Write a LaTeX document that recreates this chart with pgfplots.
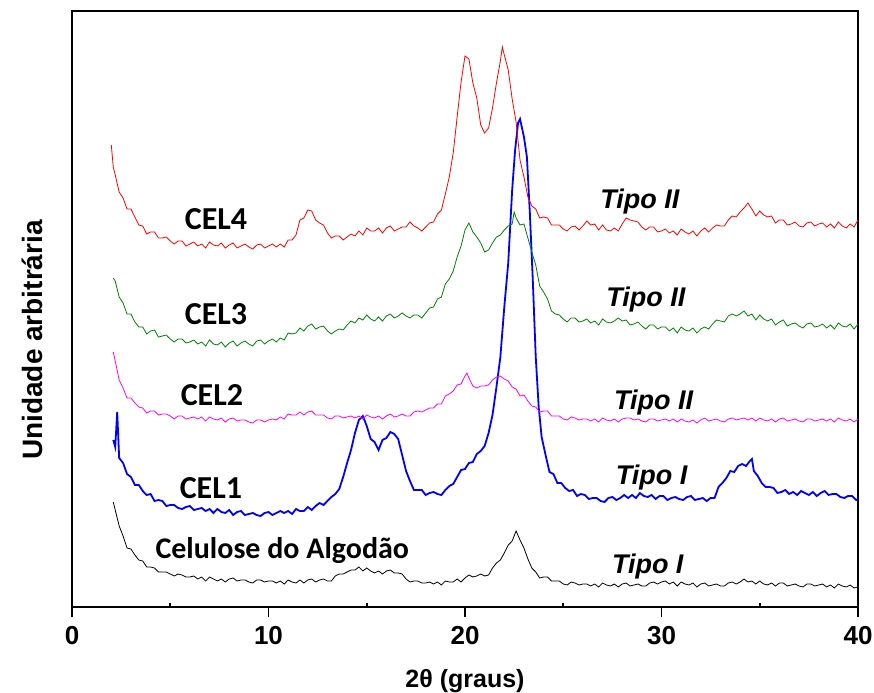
\documentclass[border=0pt]{standalone}
\usepackage{pgfplots}
\pgfplotsset{compat=1.18}
\usepackage{fontspec}
\setmainfont{Liberation Sans}
\newfontfamily\calibri{Carlito}

\definecolor{cred}{RGB}{255,0,0}
\definecolor{cgreen}{RGB}{0,128,0}
\definecolor{cmag}{RGB}{255,0,255}
\definecolor{cblue}{RGB}{0,0,255}

\begin{document}
\begin{tikzpicture}
\useasboundingbox (-72bp,-86bp) rectangle (802bp,607bp);
\begin{axis}[
  at={(0,0)}, anchor=south west,
  scale only axis, width=786bp, height=596bp,
  xmin=0, xmax=40, ymin=0, ymax=596,
  xtick={0,10,20,30,40}, ytick=\empty,
  xtick pos=bottom,
  tick align=outside, major tick length=10bp,
  extra x ticks={5,15,25,35}, extra x tick labels={},
  extra x tick style={tick align=inside, major tick length=4bp},
  axis line style={line width=1.6bp},
  tick style={line width=1.6bp, black},
  /pgf/number format/assume math mode=true,
  xticklabel style={font=\bfseries\fontsize{26bp}{28bp}\selectfont, yshift=-6bp},
  xlabel={\fontsize{25bp}{28bp}\selectfont\bfseries 2θ (graus)},
  xlabel style={yshift=-8bp},
  clip=false,
]
% Celulose do Algodao
\addplot[black, line width=0.8bp] coordinates {
(2.1,105) (2.2,97) (2.4,81) (2.6,71) (2.8,59) (3.0,58) (3.2,52) (3.4,47) (3.6,46) (3.8,40)
(4.0,40) (4.2,39) (4.4,35) (4.6,35) (4.8,35) (5.0,33) (5.2,31) (5.4,33) (5.6,32) (5.8,30)
(6.0,30) (6.2,31) (6.4,28) (6.6,30) (6.8,26) (7.0,30) (7.2,28) (7.4,26) (7.6,28) (7.8,25)
(8.0,28) (8.2,29) (8.4,26) (8.6,27) (8.8,27) (9.0,25) (9.2,24) (9.4,27) (9.6,27) (9.8,25)
(10.0,26) (10.2,26) (10.4,24) (10.6,26) (10.8,23) (11.0,27) (11.2,25) (11.4,24) (11.6,27) (11.8,24)
(12.0,27) (12.2,28) (12.4,25) (12.6,27) (12.8,28) (13.0,26) (13.2,26) (13.4,31) (13.6,33) (13.8,33)
(14.0,35) (14.2,37) (14.4,37) (14.6,40) (14.8,36) (15.0,39) (15.2,36) (15.4,34) (15.6,36) (15.8,33)
(16.0,36) (16.2,37) (16.4,34) (16.6,34) (16.8,33) (17.0,28) (17.2,25) (17.4,26) (17.6,26) (17.8,24)
(18.0,24) (18.2,25) (18.4,23) (18.6,25) (18.8,22) (19.0,26) (19.2,25) (19.4,25) (19.6,28) (19.8,25)
(20.0,29) (20.2,32) (20.4,30) (20.6,31) (20.8,33) (21.0,31) (21.2,32) (21.4,39) (21.6,44) (21.8,47)
(22.0,54) (22.2,62) (22.4,66) (22.6,76) (22.8,67) (23.0,59) (23.2,48) (23.4,39) (23.6,35) (23.8,29)
(24.0,30) (24.2,30) (24.4,26) (24.6,26) (24.8,26) (25.0,23) (25.2,22) (25.4,25) (25.6,24) (25.8,22)
(26.0,23) (26.2,23) (26.4,21) (26.6,23) (26.8,20) (27.0,24) (27.2,22) (27.4,21) (27.6,23) (27.8,20)
(28.0,23) (28.2,24) (28.4,21) (28.6,22) (28.8,23) (29.0,21) (29.2,21) (29.4,24) (29.6,25) (29.8,23)
(30.0,25) (30.2,26) (30.4,23) (30.6,25) (30.8,21) (31.0,25) (31.2,23) (31.4,22) (31.6,24) (31.8,20)
(32.0,23) (32.2,24) (32.4,21) (32.6,22) (32.8,23) (33.0,21) (33.2,21) (33.4,24) (33.6,25) (33.8,23)
(34.0,25) (34.2,28) (34.4,25) (34.6,26) (34.8,23) (35.0,26) (35.2,23) (35.4,22) (35.6,24) (35.8,21)
(36.0,24) (36.2,24) (36.4,21) (36.6,22) (36.8,23) (37.0,21) (37.2,20) (37.4,23) (37.6,23) (37.8,21)
(38.0,22) (38.2,23) (38.4,20) (38.6,22) (38.8,19) (39.0,23) (39.2,21) (39.4,20) (39.6,22) (39.8,19)
(40.0,20)};
% CEL1
\addplot[cblue, line width=1.8bp] coordinates {
(2.1,167) (2.2,160) (2.3,195) (2.4,149) (2.6,144) (2.8,133) (3.0,130) (3.2,122) (3.4,122) (3.6,116)
(3.8,112) (4.0,113) (4.2,106) (4.4,107) (4.6,106) (4.8,101) (5.0,102) (5.2,102) (5.4,99) (5.6,98)
(5.8,100) (6.0,101) (6.2,97) (6.4,98) (6.6,99) (6.8,96) (7.0,98) (7.2,94) (7.4,98) (7.6,95)
(7.8,94) (8.0,97) (8.2,92) (8.4,95) (8.6,96) (8.8,92) (9.0,93) (9.2,94) (9.4,92) (9.6,91)
(9.8,94) (10.0,95) (10.2,92) (10.4,94) (10.6,96) (10.8,94) (11.0,96) (11.2,93) (11.4,98) (11.6,96)
(11.8,96) (12.0,100) (12.2,97) (12.4,101) (12.6,104) (12.8,102) (13.0,106) (13.2,110) (13.4,113) (13.6,118)
(13.8,130) (14.0,144) (14.2,157) (14.4,174) (14.6,187) (14.8,191) (15.0,181) (15.2,168) (15.4,165) (15.6,157)
(15.8,167) (16.0,169) (16.2,175) (16.4,173) (16.6,168) (16.8,152) (17.0,136) (17.2,126) (17.4,117) (17.6,117)
(17.8,117) (18.0,112) (18.2,114) (18.4,115) (18.6,113) (18.8,112) (19.0,117) (19.2,121) (19.4,123) (19.6,130)
(19.8,137) (20.0,138) (20.2,144) (20.4,145) (20.6,153) (20.8,156) (21.0,161) (21.2,174) (21.4,192) (21.6,220)
(21.8,250) (22.0,300) (22.2,344) (22.4,417) (22.55,457) (22.7,484) (22.8,488) (22.9,479) (23.0,470) (23.15,450)
(23.3,394) (23.45,327) (23.6,250) (23.75,200) (23.9,170) (24.1,152) (24.3,135) (24.5,133) (24.7,124) (24.9,124)
(25.1,119) (25.3,116) (25.5,117) (25.7,111) (25.9,113) (26.1,112) (26.3,108) (26.5,109) (26.7,109) (26.9,106)
(27.1,105) (27.3,109) (27.5,110) (27.7,107) (27.9,109) (28.1,112) (28.3,109) (28.5,112) (28.7,109) (28.9,114)
(29.1,111) (29.3,110) (29.5,112) (29.7,108) (29.9,111) (30.1,111) (30.3,107) (30.5,109) (30.7,110) (30.9,108)
(31.1,107) (31.3,110) (31.5,111) (31.7,107) (31.9,108) (32.1,109) (32.3,106) (32.5,109) (32.7,109) (32.9,120)
(33.1,124) (33.3,129) (33.5,136) (33.7,135) (33.9,141) (34.1,143) (34.3,141) (34.5,146) (34.6,148) (34.7,136)
(34.9,131) (35.1,124) (35.3,120) (35.5,120) (35.7,119) (35.9,114) (36.1,115) (36.3,117) (36.5,113) (36.7,115)
(36.9,112) (37.1,116) (37.3,114) (37.5,112) (37.7,115) (37.9,111) (38.1,114) (38.3,116) (38.5,112) (38.7,113)
(38.9,113) (39.1,110) (39.3,109) (39.5,111) (39.7,111) (39.9,107) (40.0,108)};
% CEL2
\addplot[cmag, line width=0.8bp] coordinates {
(2.1,255) (2.2,246) (2.4,227) (2.6,219) (2.8,209) (3.0,209) (3.2,204) (3.4,200) (3.6,199) (3.8,194)
(4.0,196) (4.2,196) (4.4,192) (4.6,193) (4.8,193) (5.0,191) (5.2,188) (5.4,191) (5.6,191) (5.8,188)
(6.0,189) (6.2,190) (6.4,188) (6.6,190) (6.8,186) (7.0,190) (7.2,188) (7.4,187) (7.6,189) (7.8,185)
(8.0,188) (8.2,189) (8.4,186) (8.6,187) (8.8,187) (9.0,185) (9.2,184) (9.4,187) (9.6,187) (9.8,185)
(10.0,187) (10.2,188) (10.4,187) (10.6,190) (10.8,188) (11.0,193) (11.2,192) (11.4,192) (11.6,195) (11.8,192)
(12.0,195) (12.2,196) (12.4,192) (12.6,192) (12.8,192) (13.0,189) (13.2,188) (13.4,191) (13.6,191) (13.8,189)
(14.0,190) (14.2,191) (14.4,189) (14.6,191) (14.8,188) (15.0,192) (15.2,190) (15.4,189) (15.6,191) (15.8,188)
(16.0,191) (16.2,193) (16.4,190) (16.6,191) (16.8,193) (17.0,191) (17.2,191) (17.4,195) (17.6,196) (17.8,195)
(18.0,197) (18.2,199) (18.4,199) (18.6,203) (18.8,203) (19.0,211) (19.2,213) (19.4,216) (19.6,222) (19.8,223)
(20.0,231) (20.1,234) (20.2,229) (20.4,221) (20.6,219) (20.8,221) (21.0,221) (21.2,222) (21.4,227) (21.6,230)
(21.8,231) (22.0,228) (22.2,226) (22.4,220) (22.6,218) (22.8,211) (23.0,212) (23.2,206) (23.4,201) (23.6,200)
(23.8,195) (24.0,196) (24.2,196) (24.4,191) (24.6,191) (24.8,191) (25.0,188) (25.2,187) (25.4,190) (25.6,189)
(25.8,187) (26.0,188) (26.2,188) (26.4,186) (26.6,188) (26.8,185) (27.0,189) (27.2,187) (27.4,186) (27.6,188)
(27.8,185) (28.0,188) (28.2,189) (28.4,189) (28.6,187) (28.8,188) (29.0,186) (29.2,185) (29.4,188) (29.6,188)
(29.8,186) (30.0,187) (30.2,188) (30.4,186) (30.6,188) (30.8,185) (31.0,188) (31.2,186) (31.4,185) (31.6,187)
(31.8,184) (32.0,187) (32.2,189) (32.4,186) (32.6,187) (32.8,188) (33.0,186) (33.2,185) (33.4,188) (33.6,189)
(33.8,187) (34.0,188) (34.2,189) (34.4,187) (34.6,189) (34.8,186) (35.0,189) (35.2,187) (35.4,186) (35.6,188)
(35.8,185) (36.0,188) (36.2,189) (36.4,186) (36.6,187) (36.8,188) (37.0,186) (37.2,185) (37.4,188) (37.6,188)
(37.8,186) (38.0,187) (38.2,188) (38.4,186) (38.6,188) (38.8,185) (39.0,189) (39.2,187) (39.4,186) (39.6,188)
(39.8,185) (40.0,188)};
% CEL3
\addplot[cgreen, line width=0.8bp] coordinates {
(2.1,329) (2.2,326) (2.4,310) (2.6,304) (2.8,293) (3.0,293) (3.2,285) (3.4,280) (3.6,280) (3.8,273)
(4.0,276) (4.2,277) (4.4,270) (4.6,271) (4.8,272) (5.0,268) (5.2,265) (5.4,268) (5.6,268) (5.8,264)
(6.0,265) (6.2,267) (6.4,263) (6.6,265) (6.8,261) (7.0,267) (7.2,263) (7.4,262) (7.6,265) (7.8,260)
(8.0,264) (8.2,266) (8.4,261) (8.6,264) (8.8,266) (9.0,263) (9.2,261) (9.4,266) (9.6,267) (9.8,263)
(10.0,266) (10.2,268) (10.4,265) (10.6,269) (10.8,267) (11.0,274) (11.2,273) (11.4,274) (11.6,279) (11.8,276)
(12.0,281) (12.2,283) (12.4,278) (12.6,280) (12.8,281) (13.0,276) (13.2,273) (13.4,276) (13.6,278) (13.8,277)
(14.0,282) (14.2,286) (14.4,284) (14.6,289) (14.8,287) (15.0,292) (15.2,288) (15.4,286) (15.6,290) (15.8,286)
(16.0,291) (16.2,293) (16.4,289) (16.6,291) (16.8,294) (17.0,291) (17.2,289) (17.4,292) (17.6,292) (17.8,289)
(18.0,294) (18.2,299) (18.4,300) (18.6,308) (18.8,310) (19.0,323) (19.2,328) (19.4,336) (19.6,350) (19.8,361)
(20.0,377) (20.2,384) (20.4,375) (20.6,370) (20.8,364) (21.0,355) (21.2,357) (21.4,364) (21.6,370) (21.8,372)
(22.0,377) (22.2,381) (22.4,383) (22.5,395) (22.6,389) (22.8,382) (23.0,383) (23.2,369) (23.4,355) (23.6,342)
(23.8,321) (24.0,315) (24.2,308) (24.4,296) (24.6,293) (24.8,292) (25.0,288) (25.2,285) (25.4,289) (25.6,289)
(25.8,285) (26.0,286) (26.2,288) (26.4,284) (26.6,286) (26.8,282) (27.0,288) (27.2,285) (27.4,284) (27.6,286)
(27.8,289) (28.0,286) (28.2,287) (28.4,282) (28.6,283) (28.8,285) (29.0,281) (29.2,278) (29.4,282) (29.6,282)
(29.8,278) (30.0,280) (30.2,280) (30.4,276) (30.6,279) (30.8,274) (31.0,280) (31.2,277) (31.4,276) (31.6,279)
(31.8,274) (32.0,278) (32.2,280) (32.4,278) (32.6,283) (32.8,287) (33.0,286) (33.2,285) (33.4,291) (33.6,293)
(33.8,291) (34.0,293) (34.2,296) (34.4,291) (34.6,293) (34.8,287) (35.0,292) (35.2,288) (35.4,286) (35.6,288)
(35.8,282) (36.0,285) (36.2,287) (36.4,281) (36.6,283) (36.8,284) (37.0,281) (37.2,279) (37.4,283) (37.6,284)
(37.8,280) (38.0,281) (38.2,283) (38.4,279) (38.6,282) (38.8,278) (39.0,284) (39.2,281) (39.4,280) (39.6,283)
(39.8,278) (40.0,283)};
% CEL4
\addplot[cred, line width=0.8bp] coordinates {
(2.0,462) (2.1,440) (2.2,432) (2.4,415) (2.6,409) (2.8,398) (3.0,398) (3.2,390) (3.4,382) (3.6,381)
(3.8,373) (4.0,375) (4.2,375) (4.4,369) (4.6,369) (4.8,370) (5.0,366) (5.2,363) (5.4,366) (5.6,366)
(5.8,361) (6.0,363) (6.2,365) (6.4,361) (6.6,363) (6.8,359) (7.0,365) (7.2,362) (7.4,361) (7.6,364)
(7.8,359) (8.0,362) (8.2,364) (8.4,359) (8.6,361) (8.8,363) (9.0,360) (9.2,358) (9.4,362) (9.6,363)
(9.8,359) (10.0,361) (10.2,363) (10.4,360) (10.6,363) (10.8,360) (11.0,367) (11.2,367) (11.4,372) (11.6,387)
(11.8,389) (12.0,397) (12.2,396) (12.4,387) (12.6,384) (12.8,382) (13.0,374) (13.2,369) (13.4,371) (13.6,371)
(13.8,367) (14.0,370) (14.2,373) (14.4,371) (14.6,376) (14.8,372) (15.0,379) (15.2,376) (15.4,376) (15.6,379)
(15.8,374) (16.0,379) (16.2,381) (16.4,376) (16.6,378) (16.8,380) (17.0,380) (17.2,385) (17.4,381) (17.6,379)
(17.8,376) (18.0,380) (18.2,384) (18.4,385) (18.6,393) (18.8,397) (19.0,413) (19.2,430) (19.4,454) (19.6,490)
(19.8,525) (20.0,551) (20.2,548) (20.4,524) (20.6,509) (20.8,482) (21.0,474) (21.2,479) (21.4,499) (21.6,524)
(21.8,546) (21.9,560) (22.0,552) (22.2,537) (22.4,508) (22.6,485) (22.8,447) (23.0,430) (23.2,410) (23.4,401)
(23.6,398) (23.8,389) (24.0,390) (24.2,389) (24.4,382) (24.6,382) (24.8,382) (25.0,378) (25.2,376) (25.4,380)
(25.6,381) (25.8,377) (26.0,381) (26.2,386) (26.4,382) (26.6,383) (26.8,377) (27.0,382) (27.2,377) (27.4,376)
(27.6,379) (27.8,376) (28.0,383) (28.2,389) (28.4,387) (28.6,386) (28.8,385) (29.0,380) (29.2,377) (29.4,380)
(29.6,380) (29.8,375) (30.0,376) (30.2,378) (30.4,374) (30.6,376) (30.8,372) (31.0,378) (31.2,375) (31.4,373)
(31.6,376) (31.8,371) (32.0,376) (32.2,379) (32.4,375) (32.6,379) (32.8,382) (33.0,381) (33.2,381) (33.4,387)
(33.6,391) (33.8,390) (34.0,395) (34.2,399) (34.4,404) (34.6,398) (34.8,391) (35.0,396) (35.2,392) (35.4,390)
(35.6,391) (35.8,384) (36.0,387) (36.2,387) (36.4,382) (36.6,383) (36.8,385) (37.0,381) (37.2,380) (37.4,384)
(37.6,385) (37.8,381) (38.0,383) (38.2,384) (38.4,380) (38.6,383) (38.8,379) (39.0,385) (39.2,381) (39.4,379)
(39.6,383) (39.8,380) (40.0,387)};
% labels
\node[anchor=base, font=\calibri\bfseries\fontsize{32bp}{36bp}\selectfont] at (axis cs:7.33,377) {CEL4};
\node[anchor=base, font=\calibri\bfseries\fontsize{32bp}{36bp}\selectfont] at (axis cs:7.33,282) {CEL3};
\node[anchor=base, font=\calibri\bfseries\fontsize{32bp}{36bp}\selectfont] at (axis cs:7.12,201) {CEL2};
\node[anchor=base, font=\calibri\bfseries\fontsize{32bp}{36bp}\selectfont] at (axis cs:7.07,108) {CEL1};
\node[anchor=base, font=\calibri\bfseries\fontsize{30bp}{34bp}\selectfont] at (axis cs:10.7,49) {Celulose do Algodão};
\node[anchor=base, font=\bfseries\itshape\fontsize{27bp}{30bp}\selectfont] at (axis cs:28.9,398) {Tipo II};
\node[anchor=base, font=\bfseries\itshape\fontsize{27bp}{30bp}\selectfont] at (axis cs:29.2,300) {Tipo II};
\node[anchor=base, font=\bfseries\itshape\fontsize{27bp}{30bp}\selectfont] at (axis cs:29.6,197) {Tipo II};
\node[anchor=base, font=\bfseries\itshape\fontsize{27bp}{30bp}\selectfont] at (axis cs:29.5,122) {Tipo I};
\node[anchor=base, font=\bfseries\itshape\fontsize{27bp}{30bp}\selectfont] at (axis cs:29.3,34) {Tipo I};
\node[anchor=base, rotate=90, font=\bfseries\fontsize{28bp}{32bp}\selectfont] at (axis cs:-1.48,267) {Unidade arbitrária};
\end{axis}
\end{tikzpicture}
\end{document}
